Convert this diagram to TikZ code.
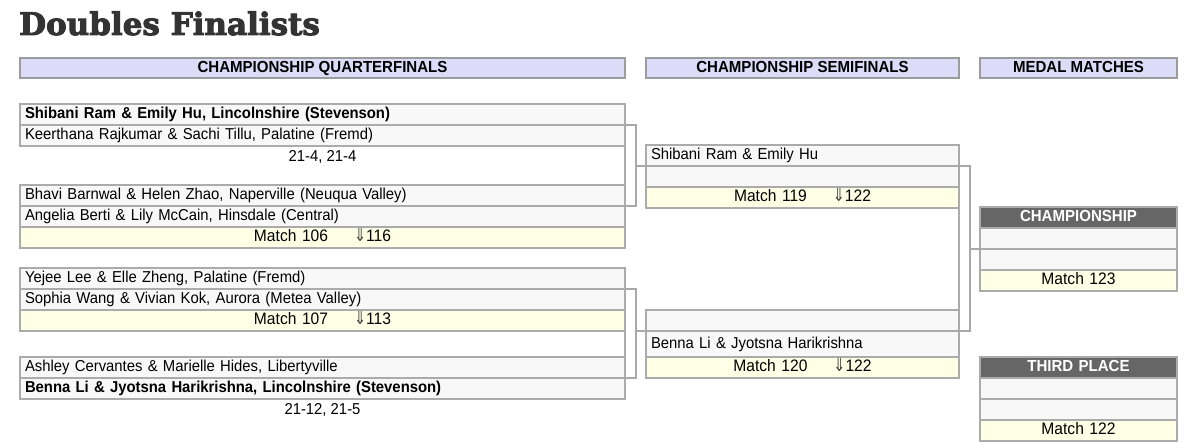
\documentclass[tikz,border=0pt]{standalone}
\usepackage{fontspec}
\setmainfont{Liberation Sans}[FakeStretch=0.94]
\newfontfamily\titlefont{DejaVu Serif}[BoldFeatures={FakeBold=3}]
\newfontfamily\arrowfont{DejaVu Sans}[FakeStretch=0.8]
\usetikzlibrary{positioning}

\definecolor{boxline}{HTML}{ABABAB}
\definecolor{hdrline}{HTML}{9C9C9C}
\definecolor{rowfill}{HTML}{F8F8F8}
\definecolor{matchfill}{HTML}{FFFFE6}
\definecolor{hdrfill}{HTML}{DCDCF8}
\definecolor{medalfill}{HTML}{666666}
\definecolor{titlegray}{HTML}{333333}
\definecolor{linkgray}{HTML}{A8A8A8}

\newcommand{\bodyfont}{\fontsize{15.8}{18}\selectfont}
\newcommand{\matchfont}{\fontsize{16.6}{18}\selectfont}
\newcommand{\hdrfont}{\fontsize{16}{18}\selectfont\bfseries}
\newcommand{\nextmatch}[1]{\hspace{26pt}{\arrowfont\fontsize{18}{18}\selectfont\color{black!75}⇓}#1}

\begin{document}
\begin{tikzpicture}[x=1pt,y=-1pt,
    row/.style={draw=boxline,line width=1.2pt,fill=rowfill,anchor=north west,
                outer sep=0pt,inner xsep=5pt,inner ysep=0pt,minimum height=21pt,
                text height=11.5pt,text depth=3pt,align=left,font=\bodyfont},
    qfrow/.style={row,text width=595pt},
    sfrow/.style={row,text width=303pt},
    mdrow/.style={row,text width=187pt},
    win/.style={font=\bodyfont\bfseries},
    match/.style={fill=matchfill,align=center,font=\matchfont},
    hdr/.style={draw=hdrline,line width=1.2pt,fill=hdrfill,anchor=north west,
                outer sep=0pt,inner sep=0pt,minimum height=20pt,
                text height=11.5pt,text depth=2pt,font=\hdrfont},
    medal/.style={mdrow,fill=medalfill,text=white,align=center,font=\hdrfont},
    score/.style={anchor=north,inner sep=0pt,font=\bodyfont},
    link/.style={draw=linkgray,line width=2pt},
    edge/.style={draw=boxline,line width=1.2pt}]

  \useasboundingbox (0,0) rectangle (1200,443);

  \node[anchor=base west,inner sep=0pt,text=titlegray,
        font=\titlefont\fontsize{31}{34}\selectfont\bfseries] (title) at (19,35) {Doubles Finalists};

  % column headers
  \node[hdr,minimum width=605pt] (hqf) at (20,58) {CHAMPIONSHIP QUARTERFINALS};
  \node[hdr,minimum width=313pt] (hsf) at (646,58) {CHAMPIONSHIP SEMIFINALS};
  \node[hdr,minimum width=197pt] (hmd) at (980,58) {MEDAL MATCHES};

  % quarterfinals, top half
  \node[qfrow,win] (q1a) at (20,104) {Shibani Ram \& Emily Hu, Lincolnshire (Stevenson)};
  \node[qfrow]     (q1b) [below=0pt of q1a] {Keerthana Rajkumar \& Sachi Tillu, Palatine (Fremd)};
  \node[score]     (s1)  [below=4pt of q1b] {21-4, 21-4};
  \node[qfrow]     (q1c) at (20,185) {Bhavi Barnwal \& Helen Zhao, Naperville (Neuqua Valley)};
  \node[qfrow]     (q1d) [below=0pt of q1c] {Angelia Berti \& Lily McCain, Hinsdale (Central)};
  \node[qfrow,match] (m106) [below=0pt of q1d] {Match 106\nextmatch{116}};

  % quarterfinals, bottom half
  \node[qfrow]     (q2a) at (20,268) {Yejee Lee \& Elle Zheng, Palatine (Fremd)};
  \node[qfrow]     (q2b) [below=0pt of q2a] {Sophia Wang \& Vivian Kok, Aurora (Metea Valley)};
  \node[qfrow,match] (m107) [below=0pt of q2b] {Match 107\nextmatch{113}};
  \node[qfrow]     (q2c) at (20,357) {Ashley Cervantes \& Marielle Hides, Libertyville};
  \node[qfrow,win] (q2d) [below=0pt of q2c] {Benna Li \& Jyotsna Harikrishna, Lincolnshire (Stevenson)};
  \node[score]     (s2)  [below=4pt of q2d] {21-12, 21-5};

  % semifinals
  \node[sfrow]     (sf1a) at (646,145) {Shibani Ram \& Emily Hu};
  \node[sfrow]     (sf1b) [below=0pt of sf1a] {};
  \node[sfrow,match] (m119) [below=0pt of sf1b] {Match 119\nextmatch{122}};
  \node[sfrow]     (sf2a) at (646,310) {};
  \node[sfrow,minimum height=26pt] (sf2b) [below=0pt of sf2a] {Benna Li \& Jyotsna Harikrishna};
  \node[sfrow,match] (m120) [below=0pt of sf2b] {Match 120\nextmatch{122}};

  % medal matches
  \node[medal]     (ch)   at (980,207) {CHAMPIONSHIP};
  \node[mdrow]     (ch1)  [below=0pt of ch] {};
  \node[mdrow]     (ch2)  [below=0pt of ch1] {};
  \node[mdrow,match] (m123) [below=0pt of ch2] {Match 123};
  \node[medal]     (tp)   at (980,357) {THIRD PLACE};
  \node[mdrow]     (tp1)  [below=0pt of tp] {};
  \node[mdrow]     (tp2)  [below=0pt of tp1] {};
  \node[mdrow,match] (m122) [below=0pt of tp2] {Match 122};

  % brackets
  \draw[edge] (q1a.south east) -- (q1c.south east);
  \draw[link] (q1a.south east) -- ++(11,0) |- (q1c.south east);
  \draw[link] (sf1a.south west) -- ++(-10,0);

  \draw[edge] (q2a.south east) -- (q2c.south east);
  \draw[link] (q2a.south east) -- ++(11,0) |- (q2c.south east);
  \draw[link] (sf2a.south west) -- ++(-10,0);

  \draw[edge] (sf1a.south east) -- (sf2a.south east);
  \draw[link] (sf1a.south east) -- ++(11,0) |- (sf2a.south east);
  \draw[link] (ch1.south west) -- ++(-10,0);
\end{tikzpicture}
\end{document}
